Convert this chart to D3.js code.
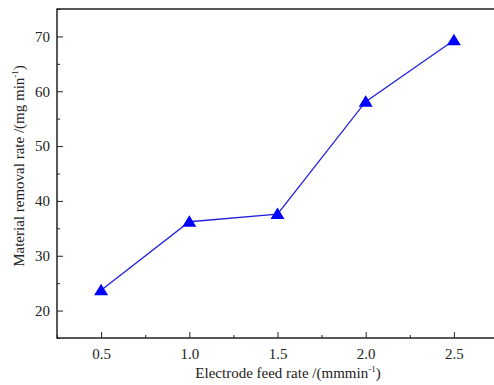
<!DOCTYPE html>
<html>
<head>
<meta charset="utf-8">
<script src="https://cdn.jsdelivr.net/npm/d3@7"></script>
<style>
  body { margin: 0; background: #fff; }
</style>
</head>
<body>
<div id="chart"></div>
<script>
// feed rate vs removal rate
var feedRate = [0.5, 1.0, 1.5, 2.0, 2.5];
var removalRate = [23.7, 36.2, 37.6, 58.1, 69.3];
var xTicks = [0.5, 1.0, 1.5, 2.0, 2.5];
var yTicks = [20, 30, 40, 50, 60, 70];

var serif = "'Liberation Serif', 'Times New Roman', 'DejaVu Serif', serif";

var width = 494, height = 385,
    margin = {left: 57, top: 9, right: -4, bottom: 47};

var x = d3.scaleLinear().domain([0.25, 2.75]).range([margin.left, width - margin.right]);
var y = d3.scaleLinear().domain([15, 75]).range([height - margin.bottom, margin.top]);

var svg = d3.select("#chart").append("svg")
    .attr("width", width)
    .attr("height", height);

// frame
svg.append("rect")
    .attr("x", x(0.25)).attr("y", y(75))
    .attr("width", x(2.75) - x(0.25)).attr("height", y(15) - y(75))
    .attr("fill", "none").attr("stroke", "#222").attr("stroke-width", 1.5);

// minor ticks
var xMinor = xTicks.map(function (d) { return d + 0.25; }).concat([0.25]);
var yMinor = yTicks.map(function (d) { return d + 5; }).concat([15]);

var xAxis = svg.append("g")
    .attr("transform", "translate(0," + y(15) + ")")
    .call(d3.axisBottom(x).tickValues(xTicks).tickFormat(d3.format(".1f")).tickSizeInner(-6).tickSizeOuter(0).tickPadding(10));
xAxis.select(".domain").remove();
xAxis.selectAll("line").attr("stroke", "#222");
xAxis.selectAll("text")
    .style("font-family", serif)
    .style("font-size", "15px")
    .attr("fill", "#222");

svg.append("g")
    .attr("transform", "translate(0," + y(15) + ")")
    .call(d3.axisBottom(x).tickValues(xMinor).tickFormat("").tickSizeInner(-3).tickSizeOuter(0))
    .call(function (g) { g.select(".domain").remove(); g.selectAll("line").attr("stroke", "#222"); });

var yAxis = svg.append("g")
    .attr("transform", "translate(" + x(0.25) + ",0)")
    .call(d3.axisLeft(y).tickValues(yTicks).tickSizeInner(-6).tickSizeOuter(0).tickPadding(7));
yAxis.select(".domain").remove();
yAxis.selectAll("line").attr("stroke", "#222");
yAxis.selectAll("text")
    .style("font-family", serif)
    .style("font-size", "15px")
    .attr("fill", "#222");

svg.append("g")
    .attr("transform", "translate(" + x(0.25) + ",0)")
    .call(d3.axisLeft(y).tickValues(yMinor).tickFormat("").tickSizeInner(-3).tickSizeOuter(0))
    .call(function (g) { g.select(".domain").remove(); g.selectAll("line").attr("stroke", "#222"); });

// line
var pts = feedRate.map(function (d, i) { return [d, removalRate[i]]; });
svg.append("path")
    .datum(pts)
    .attr("fill", "none")
    .attr("stroke", "#2222dd")
    .attr("stroke-width", 1.3)
    .attr("d", d3.line().x(function (d) { return x(d[0]); }).y(function (d) { return y(d[1]); }));

svg.selectAll(".marker")
    .data(pts)
    .enter()
    .append("path")
    .attr("class", "marker")
    .attr("transform", function (d) { return "translate(" + x(d[0]) + "," + y(d[1]) + ")"; })
    .attr("d", "M0,-6.5L7,5L-7,5Z")
    .attr("fill", "#0000ff");

// axis titles
var xt = svg.append("text")
    .attr("x", 288).attr("y", 378)
    .attr("text-anchor", "middle")
    .attr("fill", "#222")
    .style("font-family", serif)
    .style("font-size", "15px");
xt.append("tspan").text("Electrode feed rate /(mmmin");
xt.append("tspan").attr("dy", -6).style("font-size", "9px").text("-1");
xt.append("tspan").attr("dy", 6).text(")");

var yt = svg.append("text")
    .attr("transform", "translate(24,166) rotate(-90)")
    .attr("text-anchor", "middle")
    .attr("fill", "#222")
    .style("font-family", serif)
    .style("font-size", "15px");
yt.append("tspan").text("Material removal rate /(mg min");
yt.append("tspan").attr("dy", -6).style("font-size", "9px").text("-1");
yt.append("tspan").attr("dy", 6).text(")");
</script>
</body>
</html>
